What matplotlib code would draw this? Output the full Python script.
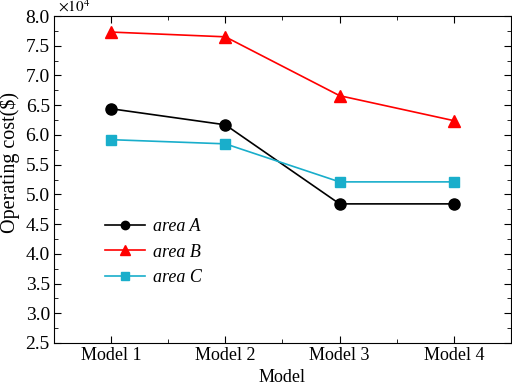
import matplotlib
matplotlib.use("Agg")
import matplotlib.pyplot as plt
from matplotlib.ticker import MultipleLocator, FixedLocator

plt.rcParams['font.family'] = ['Liberation Serif', 'DejaVu Serif']
plt.rcParams['mathtext.fontset'] = 'stix'

models = ['Model 1', 'Model 2', 'Model 3', 'Model 4']
area_a = [6.44, 6.17, 4.84, 4.84]
area_b = [7.73, 7.65, 6.66, 6.24]
area_c = [5.92, 5.85, 5.21, 5.21]
labels = ['area A', 'area B', 'area C']

fig = plt.figure(figsize=(5.12, 3.86), dpi=100)
ax = fig.add_axes([0.1055, 0.1114, 0.8925, 0.8471])
x = [1, 2, 3, 4]
ax.plot(x, area_a, color='black', marker='o', markersize=8, lw=1.2, label=labels[0])
ax.plot(x, area_b, color='#FF0000', marker='^', markersize=9, lw=1.2, label=labels[1])
ax.plot(x, area_c, color='#19AECB', marker='s', markersize=7, lw=1.2, label=labels[2])

ax.set_xlim(0.5, 4.5)
ax.set_ylim(2.5, 8.0)
ax.set_xticks(x)
ax.set_xticklabels(models, fontsize=13)
ax.xaxis.set_minor_locator(FixedLocator([1.5, 2.5, 3.5]))
ax.yaxis.set_major_locator(MultipleLocator(0.5))
ax.yaxis.set_minor_locator(MultipleLocator(0.25))
ax.set_yticks(ax.get_yticks())
ax.set_yticklabels([f'{v:.1f}' for v in ax.get_yticks()], fontsize=14)
ax.set_ylim(2.5, 8.0)
ax.tick_params(which='both', direction='in', top=True, right=True)
ax.tick_params(which='major', length=5, pad=3)
ax.tick_params(which='minor', length=3)
ax.set_xlabel('Model', fontsize=13, labelpad=3.5)
ax.set_ylabel('Operating cost($)', fontsize=14.5)
ax.yaxis.set_label_coords(-0.074, 0.553)
ax.text(0.008, 1.003, r'$\times10^4$', transform=ax.transAxes, fontsize=11, va='bottom', ha='left')

leg = ax.legend(loc='center left', bbox_to_anchor=(0.0756, 0.278), frameon=False,
                handlelength=2.2, handletextpad=0.45, labelspacing=0.46, markerscale=0.75,
                prop={'style': 'italic', 'size': 13})
fig.savefig('out.png', dpi=100)
